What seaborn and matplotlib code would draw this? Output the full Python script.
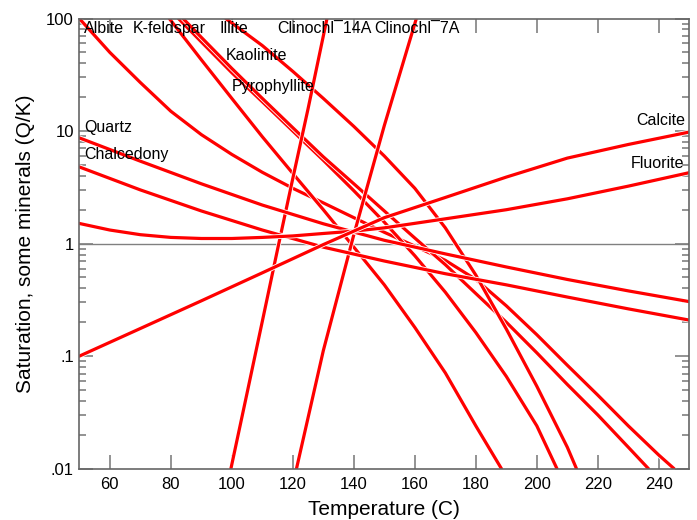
import pandas as pd
import seaborn as sns
import matplotlib
matplotlib.use("Agg")
import matplotlib.pyplot as plt
import matplotlib.patheffects as pe
from matplotlib.ticker import LogLocator, FuncFormatter, NullLocator

# saturation (Q/K), temperature in C
albite_t = [50, 60, 70, 80, 90, 100, 110, 120, 130, 140, 150, 160, 170, 180, 190, 200, 210, 220, 230, 240, 245]
albite_q = [100, 50, 27, 15, 9.3, 6.2, 4.3, 3.1, 2.3, 1.7, 1.26, 0.95, 0.71, 0.48, 0.28, 0.155, 0.083, 0.045, 0.024, 0.0132, 0.01]

kfeld_t = [79.5, 90, 100, 110, 120, 130, 140, 150, 160, 170, 180, 188.4]
kfeld_q = [100, 43, 19.5, 8.9, 4.2, 2.0, 0.93, 0.43, 0.18, 0.071, 0.024, 0.01]

kaol_t = [82.5, 90, 100, 110, 120, 130, 140, 150, 160, 170, 180, 190, 200, 206.6]
kaol_q = [100, 62, 33, 18.2, 10, 5.5, 2.95, 1.55, 0.78, 0.37, 0.162, 0.066, 0.024, 0.01]

pyro_t = [84, 90, 100, 110, 120, 130, 140, 150, 160, 170, 180, 190, 200, 210, 220, 230, 236.6]
pyro_q = [100, 68, 36, 19.5, 10.7, 5.9, 3.4, 1.95, 1.12, 0.65, 0.36, 0.2, 0.107, 0.056, 0.03, 0.0155, 0.01]

illite_t = [98, 110, 120, 130, 140, 150, 160, 170, 180, 190, 200, 210, 213]
illite_q = [100, 57.5, 33.9, 19.5, 11, 6.0, 3.1, 1.38, 0.525, 0.174, 0.054, 0.0155, 0.01]

cl14_t = [99.7, 105, 110, 115, 120, 125, 131.2]
cl14_q = [0.01, 0.047, 0.204, 0.89, 3.8, 15.8, 100]

cl7_t = [121.2, 130, 140, 150, 160.5]
cl7_q = [0.01, 0.112, 1.2, 11.2, 100]

silica_t = [50, 70, 90, 110, 130, 150, 170, 190, 210, 230, 250]
quartz_q = [8.7, 5.4, 3.4, 2.2, 1.5, 1.07, 0.81, 0.62, 0.48, 0.38, 0.305]
chalc_q = [4.8, 3.0, 1.95, 1.32, 0.93, 0.70, 0.54, 0.43, 0.335, 0.263, 0.209]

fluor_t = [50, 60, 70, 80, 90, 100, 110, 120, 130, 140, 150, 170, 190, 210, 230, 250]
fluor_q = [1.51, 1.32, 1.2, 1.135, 1.11, 1.11, 1.135, 1.17, 1.23, 1.29, 1.38, 1.66, 2.0, 2.5, 3.24, 4.27]

calcite_t = [50, 70, 90, 110, 130, 150, 170, 190, 210, 230, 250]
calcite_q = [0.1, 0.176, 0.31, 0.55, 0.98, 1.7, 2.57, 3.9, 5.75, 7.6, 9.8]

curves = {
    "Albite": (albite_t, albite_q),
    "K-feldspar": (kfeld_t, kfeld_q),
    "Kaolinite": (kaol_t, kaol_q),
    "Pyrophyllite": (pyro_t, pyro_q),
    "Illite": (illite_t, illite_q),
    "Clinochl¯14A": (cl14_t, cl14_q),
    "Clinochl¯7A": (cl7_t, cl7_q),
    "Quartz": (silica_t, quartz_q),
    "Chalcedony": (silica_t, chalc_q),
    "Fluorite": (fluor_t, fluor_q),
    "Calcite": (calcite_t, calcite_q),
}

# label text, x (C), baseline y (Q/K), alignment
labels = [
    ("Albite", 51.5, 74.6, "left"),
    ("K-feldspar", 67.6, 74.6, "left"),
    ("Illite", 95.8, 74.6, "left"),
    ("Clinochl¯14A", 114.8, 74.6, "left"),
    ("Clinochl¯7A", 146.6, 74.6, "left"),
    ("Kaolinite", 98.1, 43, "left"),
    ("Pyrophyllite", 100.1, 22.8, "left"),
    ("Quartz", 51.5, 9.9, "left"),
    ("Chalcedony", 51.5, 5.66, "left"),
    ("Calcite", 248.6, 11.4, "right"),
    ("Fluorite", 248.3, 4.71, "right"),
]

rows = []
for name, (ts, qs) in curves.items():
    for t, q in zip(ts, qs):
        rows.append({"mineral": name, "T": t, "QK": q})
df = pd.DataFrame(rows)

sns.set_theme(style="ticks")
plt.rcParams["font.family"] = ["Liberation Sans", "DejaVu Sans"]

fig, ax = plt.subplots(figsize=(6.97, 5.2), dpi=100)
fig.subplots_adjust(left=0.1138, right=0.989, bottom=0.0987, top=0.9644)

ax.axhline(1, color="0.5", lw=1, zorder=1)

sns.lineplot(data=df, x="T", y="QK", hue="mineral",
             palette={m: "#ff0000" for m in curves}, estimator=None,
             legend=False, lw=2.3, ax=ax, zorder=2)
# white edge round each curve, as in the original where lines cross
for line in ax.lines[1:]:
    line.set_path_effects([pe.Stroke(linewidth=3.5, foreground="white"), pe.Normal()])

ax.set_yscale("log")
ax.set_xlim(50, 250)
ax.set_ylim(0.01, 100)
ax.set_xticks(range(60, 250, 20))
ax.xaxis.set_minor_locator(NullLocator())
ax.yaxis.set_major_locator(LogLocator(base=10))
ax.yaxis.set_minor_locator(LogLocator(base=10, subs=range(2, 10)))
ytxt = {100: "100", 10: "10", 1: "1", 0.1: ".1", 0.01: ".01"}
ax.yaxis.set_major_formatter(FuncFormatter(lambda v, _: ytxt.get(round(v, 4), "")))

ax.tick_params(which="major", direction="in", length=10, width=1.2, color="0.5",
               top=True, right=True, labelsize=12, labelcolor="black")
ax.tick_params(axis="x", which="major", pad=6)
ax.tick_params(axis="y", which="major", pad=4)
ax.tick_params(which="minor", direction="in", length=5, width=1.2, color="0.5",
               left=True, right=True)
for s in ax.spines.values():
    s.set_color("0.4")
    s.set_linewidth(1.2)

ax.set_xlabel("Temperature (C)", fontsize=15, labelpad=6, color="black")
ax.set_ylabel("Saturation, some minerals (Q/K)", fontsize=15, labelpad=8, color="black")

for text, x, y, ha in labels:
    ax.text(x, y, text, ha=ha, va="baseline", fontsize=11.5, color="black", zorder=5)

plt.savefig("out.png", dpi=100)
